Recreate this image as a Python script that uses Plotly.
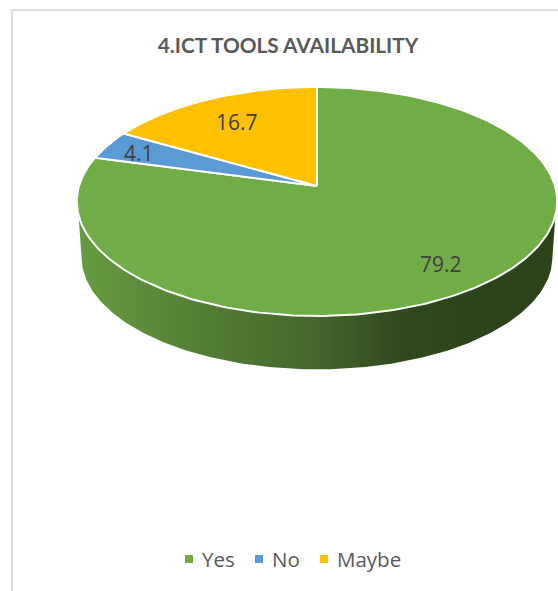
import numpy as np
import plotly.graph_objects as go

# Chart data
categories = ["Yes", "No", "Maybe"]
values = [79.2, 4.1, 16.7]
colors = ["#70AD47", "#5B9BD5", "#FFC000"]
title = "4.ICT TOOLS AVAILABILITY"

# Where the value labels sit on the page
label_x = [441, 139, 237]
label_y = [264, 153, 122]

# Legend key and text positions on the page
key_x = [189, 259, 324]
key_text_x = [199.5, 269.5, 334.5]
LEGEND_Y = 559

# Wall shading from left to right (x position, colour)
wall_shading = [
    [0.0, "#659C40"],
    [0.25, "#557F36"],
    [0.5, "#44662A"],
    [0.68, "#30491D"],
    [0.82, "#2C441B"],
    [1.0, "#2C431A"],
]

WIDTH, HEIGHT = 558, 591
CENTER_X, CENTER_Y = 317, 186
TILT = 0.135  # perspective, the near rim is drawn larger than the far rim
RADIUS_X, RADIUS_Y = 238, 112.4
WALL_DROP = 56
WALL_SCALE = 0.98


def project(theta, drop=0.0, scale=1.0):
    """
    Projects a clockwise-from-top pie angle onto the tilted disc.

    Args:
        theta: angle(s) in radians
        drop: downward shift of the disc, used for the bottom rim
        scale: size factor of the disc, used for the bottom rim

    Returns:
        x, y: page coordinates
    """
    u, v = np.sin(theta), -np.cos(theta)
    w = 1 - TILT * v
    return (
        CENTER_X + scale * RADIUS_X * u / w,
        CENTER_Y + drop + scale * RADIUS_Y * v / w,
    )


fig = go.Figure()

# Side wall, only the part that faces the viewer
top_arc = np.radians(np.linspace(104.5, 255.5, 200))
low_arc = np.radians(np.linspace(262, 98, 200))
top_x, top_y = project(top_arc)
low_x, low_y = project(low_arc, WALL_DROP, WALL_SCALE)
fig.add_trace(
    go.Scatter(
        x=np.concatenate([top_x, low_x]),
        y=np.concatenate([top_y, low_y]),
        mode="lines",
        fill="toself",
        fillgradient=dict(
            type="horizontal",
            colorscale=wall_shading,
            start=78,
            stop=557,
        ),
        line=dict(width=0),
        showlegend=False,
        hoverinfo="skip",
    )
)

# Top face slices
edges = np.radians(np.cumsum([0] + values) / sum(values) * 360)
for i, name in enumerate(categories):
    arc = np.linspace(edges[i], edges[i + 1], 240)
    arc_x, arc_y = project(arc)
    fig.add_trace(
        go.Scatter(
            x=np.concatenate([[CENTER_X], arc_x, [CENTER_X]]),
            y=np.concatenate([[CENTER_Y], arc_y, [CENTER_Y]]),
            mode="lines",
            fill="toself",
            fillcolor=colors[i],
            line=dict(color="white", width=2),
            name=name,
            showlegend=False,
            text=f"{name}: {values[i]}",
            hoverinfo="text",
        )
    )

# Value labels
for i, value in enumerate(values):
    fig.add_annotation(
        x=label_x[i],
        y=label_y[i],
        text=str(value),
        showarrow=False,
        font=dict(family="Open Sans", size=21, color="#404040"),
    )

# Legend, the built-in one leaves too much room between key and text
for i, name in enumerate(categories):
    fig.add_trace(
        go.Scatter(
            x=[key_x[i]],
            y=[LEGEND_Y],
            mode="markers",
            marker=dict(symbol="square", size=8, color=colors[i]),
            name=name,
            showlegend=False,
            hoverinfo="name",
        )
    )
    fig.add_annotation(
        x=key_text_x[i],
        y=LEGEND_Y,
        text=name,
        xanchor="left",
        showarrow=False,
        font=dict(family="Open Sans", size=20.5, color="#595959"),
    )

# Chart frame, its right and bottom sides fall outside the crop
fig.add_shape(type="line", x0=12, x1=WIDTH, y0=10, y1=10, line=dict(color="#DEDEDE", width=2))
fig.add_shape(type="line", x0=12, x1=12, y0=10, y1=HEIGHT, line=dict(color="#DEDEDE", width=2))

fig.update_layout(
    width=WIDTH,
    height=HEIGHT,
    margin=dict(l=0, r=0, t=0, b=0),
    paper_bgcolor="white",
    plot_bgcolor="white",
    title=dict(
        text=f"<b>{title}</b>",
        x=288 / WIDTH,
        xanchor="center",
        y=1 - 45.5 / HEIGHT,
        yanchor="middle",
        font=dict(family="Lato", size=20.8, color="#595959"),
    ),
    xaxis=dict(range=[0, WIDTH], visible=False, fixedrange=True),
    yaxis=dict(range=[HEIGHT, 0], visible=False, fixedrange=True),
    showlegend=False,
)

fig.write_html(
    "out.html",
    config=dict(displayModeBar=False),
    post_script="document.body.style.margin = '0';",
)
